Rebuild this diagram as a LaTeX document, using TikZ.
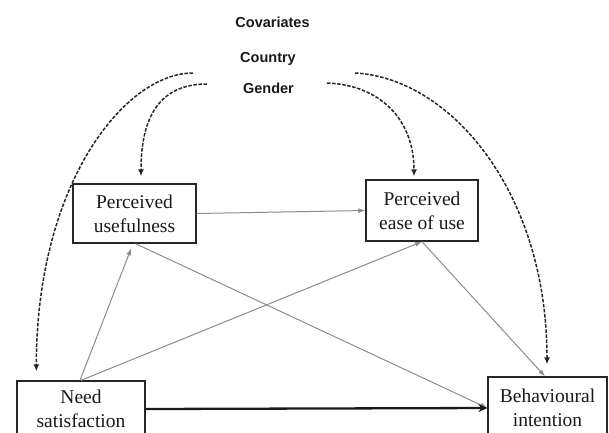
\documentclass[tikz,border=0pt]{standalone}
\usepackage{fontspec}
\setmainfont{Liberation Serif}
\newfontfamily\covfont{Liberation Sans}
\usetikzlibrary{arrows.meta}
\begin{document}
	\begin{tikzpicture}[x=1pt,y=-1pt,
			box/.style={draw=black!85,line width=1.3pt,align=center,inner sep=0pt,text=black!90,font=\fontsize{19.5}{24}\selectfont},
			cov/.style={text=black!90,font=\covfont\bfseries\fontsize{14.5}{17}\selectfont},
			covline/.style={draw=black!85,line width=1.5pt,dash pattern=on 3.5pt off 1.6pt,-{Latex[length=7pt,width=6pt]}},
			path/.style={draw=black!45,line width=1pt,-{Latex[length=7pt,width=5pt]}},
			mainpath/.style={draw=black!90,line width=2.3pt,-{Stealth[length=9pt,width=8pt,inset=3pt]}}]
			\useasboundingbox (0,0) rectangle (609,432);
			\node [cov] (covariates) at (272.5,22.5) {Covariates};
			\node [cov] (country) at (268,59) {Country};
			\node [cov] (gender) at (268.5,88) {Gender};
			\coordinate (cov-ol) at (193,73);
			\coordinate (cov-il) at (207,84);
			\coordinate (cov-ir) at (327,83);
			\coordinate (cov-or) at (355,73);
			\node [box,minimum width=123pt,minimum height=59pt] (pu) at (134.5,213.5) {Perceived\\usefulness};
			\node [box,minimum width=112pt,minimum height=61pt] (peou) at (422,210.5) {Perceived\\ease of use};
			\node [box,minimum width=128pt,minimum height=56pt] (ns) at (81,409) {Need\\satisfaction};
			\node [box,minimum width=119pt,minimum height=62pt] (bi) at (547.5,408) {Behavioural\\intention};
			\draw [path] (pu.east) -- (peou.west);
			\draw [path,shorten >=5pt] ([xshift=-1pt]ns.north) -- ([xshift=-1.5pt]pu.south);
			\draw [path] (ns.north) -- (peou.south);
			\draw [path] ([xshift=1pt]pu.south) -- (bi.west);
			\draw [path] (peou.south) -- ([xshift=-2.5pt]bi.north);
			\draw [mainpath] (ns.east) -- (bi.west);
			\draw [covline,shorten >=9pt] (cov-ol) .. controls +(-68,0) and +(0,-197) .. ([xshift=20pt]ns.north west);
			\draw [covline,shorten >=7pt] (cov-il) .. controls +(-47,0) and +(0,-67) .. ([xshift=6.5pt]pu.north);
			\draw [covline,shorten >=3pt] (cov-ir) .. controls +(53,2) and +(0,-60) .. ([xshift=-8pt]peou.north);
			\draw [covline,shorten >=12pt] (cov-or) .. controls +(95,5) and +(0,-185) .. ([xshift=-0.5pt]bi.north);
	\end{tikzpicture}
\end{document}
